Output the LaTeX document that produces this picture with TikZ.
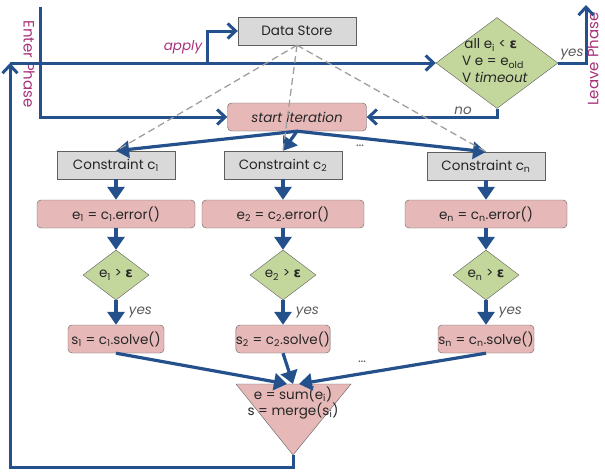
\documentclass[tikz,border=0pt]{standalone}
\usepackage{fontspec}
\setmainfont{Poppins}
\newfontfamily\symfont{DejaVu Sans}
\usetikzlibrary{arrows.meta,shapes.geometric}
\definecolor{flowblue}{HTML}{24508C}
\definecolor{boxpink}{HTML}{E6B9B8}
\definecolor{boxgreen}{HTML}{C3D69B}
\definecolor{boxgray}{HTML}{D9D9D9}
\definecolor{edgegray}{HTML}{5F5F5F}
\definecolor{phasepink}{HTML}{A8327A}
\definecolor{labelgray}{HTML}{595959}
\newcommand{\lo}[1]{\textsubscript{#1}}
\newcommand{\eps}{{\symfont\bfseries ε}}
\tikzset{
  every node/.style={font=\fontsize{13.5}{16}\selectfont, text=black!85},
  storebox/.style={draw=edgegray, fill=boxgray, minimum width=118pt, minimum height=28pt, inner sep=0pt},
  procbox/.style={draw=edgegray, fill=boxpink, rounded corners=4pt, minimum height=28pt, inner sep=0pt},
  testbox/.style={diamond, draw=edgegray, fill=boxgreen, aspect=1.3, minimum width=66pt, minimum height=50pt, inner sep=0pt},
  flow/.style={draw=flowblue, line width=3.2pt, -{Triangle[width=17pt,length=13pt]}},
  flowline/.style={draw=flowblue, line width=3pt, -{Straight Barb[width=15pt,length=8pt]}},
  feed/.style={draw=gray!75, line width=1.3pt, dash pattern=on 7pt off 4pt},
  choice/.style={text=labelgray, font=\fontsize{13.5}{16}\selectfont\itshape},
  phase/.style={text=phasepink, font=\fontsize{15}{18}\selectfont}
}
\begin{document}
\begin{tikzpicture}[x=1pt,y=-1pt]
  \useasboundingbox (0,0) rectangle (605,472);

  \node[storebox] (store) at (297,31) {Data Store};
  \node[diamond, draw=edgegray, fill=boxgreen, minimum width=122pt, minimum height=91pt, inner sep=0pt] (check) at (497,63) {};
  \node[align=left, inner sep=0pt] (checktext) at (495,61) {\,all e\lo{i} < \eps\\[1pt]V e = e\lo{old}\\[1pt]V \textit{timeout}};
  \node[procbox, minimum width=139pt] (start) at (297,117) {\textit{start iteration}};

  \node[storebox] (c1) at (116,165) {Constraint c\lo{1}};
  \node[storebox] (c2) at (283,165) {Constraint c\lo{2}};
  \node[storebox] (cn) at (486,166) {Constraint c\lo{n}};
  \node[procbox, minimum width=158pt] (e1) at (116,214) {e\lo{1} = c\lo{1}.error()};
  \node[procbox, minimum width=162pt] (e2) at (283,214) {e\lo{2} = c\lo{2}.error()};
  \node[procbox, minimum width=162pt] (en) at (486,214) {e\lo{n} = c\lo{n}.error()};
  \node[testbox] (t1) at (116,275) {e\lo{1} > \eps};
  \node[testbox] (t2) at (283,275) {e\lo{2} > \eps};
  \node[testbox] (tn) at (486,275) {e\lo{n} > \eps};
  \node[procbox, minimum width=96pt] (s1) at (116,339) {s\lo{1} = c\lo{1}.solve()};
  \node[procbox, minimum width=94pt] (s2) at (283,339) {s\lo{2} = c\lo{2}.solve()};
  \node[procbox, minimum width=96pt] (sn) at (486,339) {s\lo{n} = c\lo{n}.solve()};

  \filldraw[draw=edgegray, fill=boxpink] (236,384) -- (351,384) -- (293,455) -- cycle;
  \coordinate (mergein) at (293,384);
  \coordinate (mergeout) at (293,455);
  \node[align=center, inner sep=0pt] (merge) at (293,403) {e = sum(e\lo{i})\\s = merge(s\lo{i})};

  \node[text=labelgray] (dotsa) at (360,146) {\dots};
  \node[text=labelgray] (dotsb) at (362,362) {\dots};
  \node[phase, rotate=-90] (enter) at (29,64) {Enter Phase};
  \node[phase, rotate=90] (leave) at (593,59) {Leave Phase};

  \coordinate (entry) at (10,63);
  \coordinate (applyfork) at (207,63);
  \coordinate (entertop) at (40,7);
  \coordinate (leaveend) at (586,5);

  \draw[flowline] (mergeout) -- ++(0,12) -| (entry);
  \draw[flowline] (entry) -- (check.west);
  \draw[flowline] (applyfork) |- (store.west) node[pos=0.25, left, text=phasepink, font=\fontsize{13.5}{16}\selectfont\itshape] {apply};
  \draw[flowline] (entertop) |- (start.west);
  \draw[flowline] (check.south) |- (start.east) node[pos=0.63, above, choice, inner sep=1pt] {no};
  \draw[flowline] (check.east) -| (leaveend) node[pos=0.25, above, choice, inner sep=2pt] {yes};

  \foreach \c in {c1,c2,cn}
    \draw[flow] (start.south) -- (\c.north);
  \draw[flow] (c1) -- (e1);
  \draw[flow] (c2) -- (e2);
  \draw[flow] (cn) -- (en);
  \draw[flow] (e1) -- (t1);
  \draw[flow] (e2) -- (t2);
  \draw[flow] (en) -- (tn);
  \draw[flow] (t1) -- (s1) node[midway, right, choice, xshift=8pt] {yes};
  \draw[flow] (t2) -- (s2) node[midway, right, choice, xshift=8pt] {yes};
  \draw[flow] (tn) -- (sn) node[midway, right, choice, xshift=8pt] {yes};
  \draw[flow] (s1.south) -- ([xshift=-6pt]mergein);
  \draw[flow] (s2.south) -- (mergein);
  \draw[flow] (sn.south) -- ([xshift=6pt]mergein);

  \foreach \c in {c1,c2,cn}
    \draw[feed] (store.south) -- (\c.north);
\end{tikzpicture}
\end{document}
